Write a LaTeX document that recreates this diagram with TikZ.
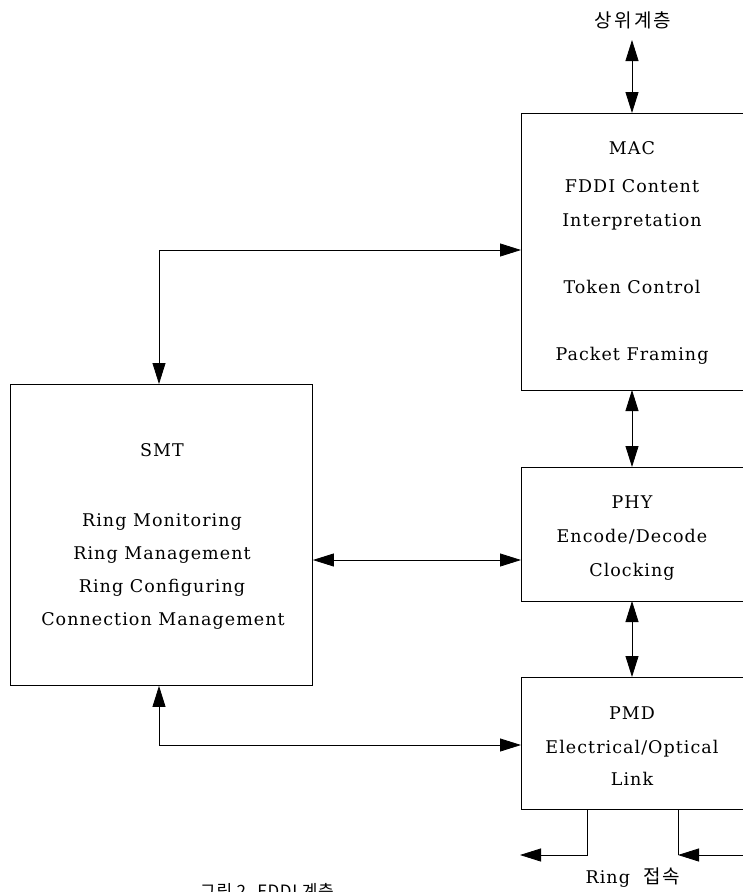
\documentclass[tikz,border=0pt]{standalone}
\usepackage{fontspec}
\setmainfont{DejaVu Serif}[LetterSpace=6]
\newfontfamily\kor{Noto Sans CJK KR}[LetterSpace=12]
\newfontfamily\korcap{Noto Sans CJK KR}[LetterSpace=4]
\usetikzlibrary{arrows.meta}
\tikzset{
  layer/.style={draw, line width=0.9pt, rectangle, anchor=north west, inner sep=0pt},
  lbl/.style={font=\fontsize{17.5}{22}\selectfont, inner sep=0pt, anchor=base},
  klbl/.style={font=\kor\fontsize{19}{22}\selectfont, inner sep=0pt, anchor=base},
  conn/.style={line width=0.8pt},
  tip/.style={-{Triangle[length=21pt,width=13pt]}},
  tips/.style={{Triangle[length=21pt,width=13pt]}-{Triangle[length=21pt,width=13pt]}},
}
\begin{document}
\begin{tikzpicture}[x=1pt,y=-1pt]
\useasboundingbox (0,0) rectangle (743,892);
\clip (0,0) rectangle (743,892);
% boxes
\node[layer, minimum width=300pt, minimum height=277pt] (mac) at (521,113) {};
\node[layer, minimum width=300pt, minimum height=134pt] (phy) at (521,467) {};
\node[layer, minimum width=300pt, minimum height=132pt] (pmd) at (521,677) {};
\node[layer, minimum width=302pt, minimum height=301pt] (smt) at (10,384) {};
% texts
\node[lbl] (t1) at (632,154) {MAC};
\node[lbl] (t2) at (632,192) {FDDI Content};
\node[lbl] (t3) at (632,226) {Interpretation};
\node[lbl] (t4) at (632,293) {Token Control};
\node[lbl] (t5) at (632,360) {Packet Framing};
\node[lbl] (p1) at (632,508) {PHY};
\node[lbl] (p2) at (632,542) {Encode/Decode};
\node[lbl] (p3) at (632,576) {Clocking};
\node[lbl] (m1) at (632,719) {PMD};
\node[lbl] (m2) at (632,753) {Electrical/Optical};
\node[lbl] (m3) at (632,785) {Link};
\node[lbl] (s1) at (162,456) {SMT};
\node[lbl] (s2) at (162,526) {Ring Monitoring};
\node[lbl] (s3) at (162,559) {Ring Management};
\node[lbl] (s4) at (162,592) {Ring Configuring};
\node[lbl] (s5) at (163,625) {Connection Management};
\node[klbl] (top) at (633,27) {상위계층};
\node[lbl] (ring) at (633,883) {Ring\ \ {\kor\fontsize{19}{22}\selectfont 접속}};
\node[klbl, font=\korcap\fontsize{17}{20}\selectfont] (cap) at (267,897) {그림 2. FDDI 계층};
% coordinates
\coordinate (ta) at (632,40);
\coordinate (c1) at (159,250);
\coordinate (c2) at (159,745);
\coordinate (r1) at (587,855);
\coordinate (r1e) at (520,855);
\coordinate (r2) at (678,855);
\coordinate (r2s) at (760,855);
% connectors
\draw[conn,tips] (ta) -- (ta |- mac.north);
\draw[conn,tips] (632,390) coordinate (a1) (a1) -- (a1 |- phy.north);
\draw[conn,tips] (632,601) coordinate (a2) (a2) -- (a2 |- pmd.north);
\draw[conn,tips] (c1 |- smt.north) -- (c1) -- (c1 -| mac.west);
\draw[conn,tips] (smt.east |- 0,560) -- (phy.west |- 0,560);
\draw[conn,tips] (c2 |- smt.south) -- (c2) -- (c2 -| pmd.west);
\draw[conn,tip] (r1 |- pmd.south) -- (r1) -- (r1e);
\draw[conn,tip] (r2s) -- (r2);
\draw[conn] (r2) -- (r2 |- pmd.south);
\end{tikzpicture}
\end{document}
